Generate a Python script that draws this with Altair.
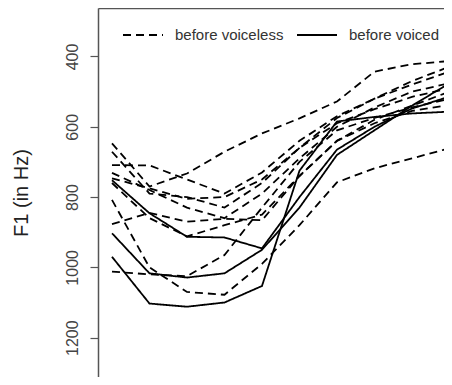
import altair as alt
import pandas as pd

# measurement index along the vowel (1..10)
steps = [1, 2, 3, 4, 5, 6, 7, 8, 9, 10]

# F1 trajectories before voiceless consonants (dashed)
voiceless_a = [647, 770, 733, 671, 619, 576, 528, 443, 422, 413]
voiceless_b = [671, 790, 800, 830, 760, 660, 575, 520, 470, 429]
voiceless_c = [709, 710, 750, 790, 730, 640, 570, 520, 480, 443]
voiceless_d = [731, 780, 830, 860, 790, 690, 600, 545, 500, 476]
voiceless_e = [747, 775, 805, 800, 750, 660, 590, 550, 515, 490]
voiceless_f = [808, 1000, 1070, 1078, 990, 880, 758, 718, 690, 661]
voiceless_g = [877, 845, 870, 862, 866, 740, 640, 590, 555, 538]
voiceless_h = [1012, 1020, 1025, 965, 830, 700, 610, 575, 545, 520]
voiceless_i = [760, 860, 912, 880, 850, 740, 640, 580, 540, 500]

# F1 trajectories before voiced consonants (solid)
voiced_a = [970, 1103, 1112, 1100, 1053, 725, 585, 572, 562, 557]
voiced_b = [752, 846, 913, 915, 946, 800, 665, 600, 548, 514]
voiced_c = [903, 1017, 1029, 1017, 950, 830, 680, 610, 540, 476]

y_ticks = [400, 600, 800, 1000, 1200]
labels = ["before voiceless", "before voiced"]

series = {
    ("va", labels[0]): voiceless_a,
    ("vb", labels[0]): voiceless_b,
    ("vc", labels[0]): voiceless_c,
    ("vd", labels[0]): voiceless_d,
    ("ve", labels[0]): voiceless_e,
    ("vf", labels[0]): voiceless_f,
    ("vg", labels[0]): voiceless_g,
    ("vh", labels[0]): voiceless_h,
    ("vi", labels[0]): voiceless_i,
    ("da", labels[1]): voiced_a,
    ("db", labels[1]): voiced_b,
    ("dc", labels[1]): voiced_c,
}

rows = []
for (sid, kind), vals in series.items():
    for s, v in zip(steps, vals):
        rows.append({"id": sid, "type": kind, "step": s, "f1": v})
df = pd.DataFrame(rows)

chart = (
    alt.Chart(df)
    .mark_line(color="black", strokeWidth=1.8, clip=True)
    .encode(
        x=alt.X(
            "step:Q",
            scale=alt.Scale(domain=[0.627, 9.854], nice=False, zero=False),
            axis=alt.Axis(orient="top", labels=False, ticks=False, grid=False,
                          title=None, domainColor="#555555", domainWidth=1.5),
        ),
        y=alt.Y(
            "f1:Q",
            scale=alt.Scale(domain=[262, 1312], reverse=True, nice=False, zero=False),
            axis=alt.Axis(
                values=y_ticks, format="d", grid=False, title="F1 (in Hz)",
                titleFontSize=20, titleFont="Liberation Sans", titleFontWeight="normal",
                titleColor="#222222", titlePadding=33,
                labelAngle=270, labelAlign="center", labelBaseline="bottom",
                labelFontSize=16, labelFont="Liberation Sans", labelColor="#444444",
                labelPadding=10, tickSize=8, tickColor="#555555", tickWidth=1.2,
                domainColor="#555555", domainWidth=1.5,
            ),
        ),
        strokeDash=alt.StrokeDash(
            "type:N",
            scale=alt.Scale(domain=labels, range=[[8, 5], [1, 0]]),
            legend=alt.Legend(
                title=None, orient="none", legendX=24, legendY=6,
                direction="horizontal", symbolType="stroke", symbolSize=1600,
                symbolStrokeWidth=1.8, symbolStrokeColor="black",
                labelFontSize=15, labelFont="Liberation Sans", labelColor="#333333",
                labelOffset=11, columnPadding=9,
            ),
        ),
        detail="id:N",
        order="step:Q",
    )
    .properties(
        width=346, height=369,
        autosize=alt.AutoSizeParams(type="none"),
        padding={"left": 90, "top": 0, "right": 0, "bottom": 0},
    )
    .configure_view(stroke=None)
)

chart.save("out.html", embed_options={"renderer": "svg", "actions": False})
